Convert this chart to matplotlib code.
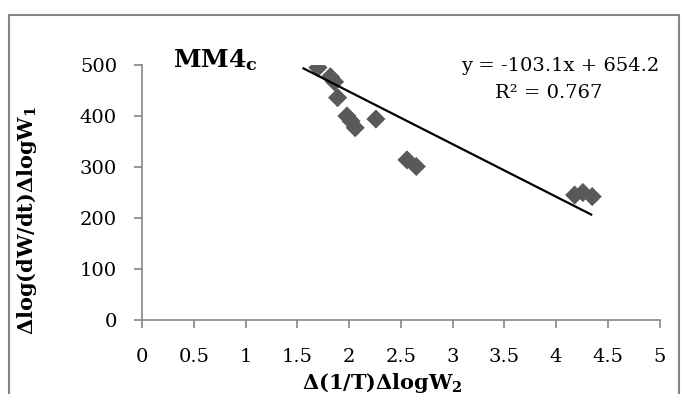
import matplotlib
matplotlib.use("Agg")
from matplotlib import pyplot as plt
from matplotlib.patches import Rectangle
import numpy as np

# values
x_data = [1.70, 1.82, 1.86, 1.89, 1.98, 2.02, 2.06, 2.26, 2.56, 2.65, 4.18, 4.26, 4.35]
y_data = [495, 477, 467, 436, 400, 390, 377, 394, 314, 301, 245, 250, 242]
slope = -103.1
intercept = 654.2
r2 = 0.767
fit_range = [1.56, 4.34]
xticks = [0, 0.5, 1, 1.5, 2, 2.5, 3, 3.5, 4, 4.5, 5]
yticks = [0, 100, 200, 300, 400, 500]

plt.rcParams['font.family'] = ['DejaVu Serif']
plt.rcParams['mathtext.fontset'] = 'dejavuserif'

W, H = 683, 394
grey = '#868686'
fig = plt.figure(figsize=(W / 100, H / 100), dpi=100)
# outer chart frame
fig.patches.append(Rectangle((9 / W, -0.05), 670 / W, 1 - 15 / H + 0.05,
                             transform=fig.transFigure, fill=False,
                             edgecolor=grey, linewidth=1.5))
ax = fig.add_axes([142 / W, 1 - 320 / H, 517.5 / W, 255 / H])

ax.scatter(x_data, y_data, marker='D', s=95, color='#595959', edgecolors='none', zorder=3)
fx = np.array(fit_range)
ax.plot(fx, slope * fx + intercept, color='black', linewidth=1.6, zorder=4)

ax.set_xlim(0, 5)
ax.set_ylim(0, 500)
ax.set_xticks(xticks)
ax.set_xticklabels([('%g' % v) for v in xticks])
ax.set_yticks(yticks)
ax.tick_params(axis='both', labelsize=14, color=grey, length=6, width=1.2)
ax.tick_params(axis='x', pad=14)
ax.tick_params(axis='y', pad=12)
for s in ['top', 'right']:
    ax.spines[s].set_visible(False)
for s in ['left', 'bottom']:
    ax.spines[s].set_color(grey)
    ax.spines[s].set_linewidth(1.2)

# axis titles placed where the reference has them
fig.text(382 / W, 1 - 383 / H, r'$\mathbf{\Delta(1/T)\Delta logW_2}$', fontsize=15,
         ha='center', va='center')
fig.text(27 / W, 1 - 220 / H, r'$\mathbf{\Delta log(dW/dt)\Delta logW_1}$', fontsize=15,
         ha='center', va='center', rotation=90)

fig.text(215 / W, 1 - 60 / H, r'$\mathbf{MM4_c}$', fontsize=18, ha='center', va='center')
fig.text(560 / W, 1 - 66 / H, 'y = %.1fx + %.1f' % (slope, intercept), fontsize=14,
         ha='center', va='center')
fig.text(549 / W, 1 - 93 / H, 'R² = %.3f' % r2, fontsize=14, ha='center', va='center')

plt.savefig('out.png', dpi=100)
plt.close()
